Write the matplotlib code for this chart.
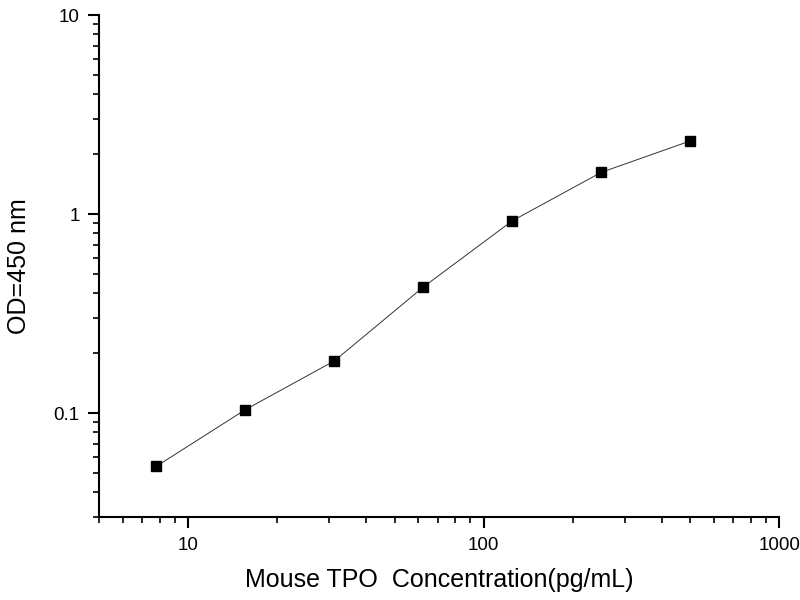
import numpy as np
import matplotlib
matplotlib.use('Agg')
import matplotlib.pyplot as plt
from matplotlib.ticker import LogLocator, NullFormatter

plt.rcParams['font.family'] = ['Liberation Sans', 'DejaVu Sans']

# концентрации стандартов и оптическая плотность
conc = [7.8, 15.6, 31.25, 62.5, 125, 250, 500]
od = [0.054, 0.104, 0.183, 0.43, 0.925, 1.62, 2.33]

x_ticks = [10, 100, 1000]
x_labels = ['10', '100', '1000']
y_ticks = [0.1, 1, 10]
y_labels = ['0.1', '1', '10']

fig = plt.figure(figsize=(8, 6), dpi=100)
ax = fig.add_axes([0.124, 0.138, 0.850, 0.837])

ax.plot(conc, od, '-', color='#333333', linewidth=0.7,
        marker='s', markersize=7, markerfacecolor='black', markeredgecolor='black')

ax.set_xscale('log')
ax.set_yscale('log')
ax.set_xlim(5, 1000)
ax.set_ylim(0.03, 10)

ax.set_xticks(x_ticks)
ax.set_xticklabels(x_labels)
ax.set_yticks(y_ticks)
ax.set_yticklabels(y_labels)
ax.xaxis.set_minor_locator(LogLocator(base=10, subs=np.arange(2, 10)))
ax.yaxis.set_minor_locator(LogLocator(base=10, subs=np.arange(2, 10)))
ax.xaxis.set_minor_formatter(NullFormatter())
ax.yaxis.set_minor_formatter(NullFormatter())

ax.spines['top'].set_visible(False)
ax.spines['right'].set_visible(False)
ax.spines['left'].set_linewidth(1.5)
ax.spines['bottom'].set_linewidth(1.5)
ax.tick_params(which='major', direction='out', length=8, width=1.5, labelsize=13.5, pad=6)
ax.tick_params(which='minor', direction='out', length=4, width=1.2)

ax.set_xlabel('Mouse TPO  Concentration(pg/mL)', fontsize=18, labelpad=10)
ax.set_ylabel('OD=450 nm', fontsize=18, labelpad=16)

plt.savefig('out.png', dpi=100)
